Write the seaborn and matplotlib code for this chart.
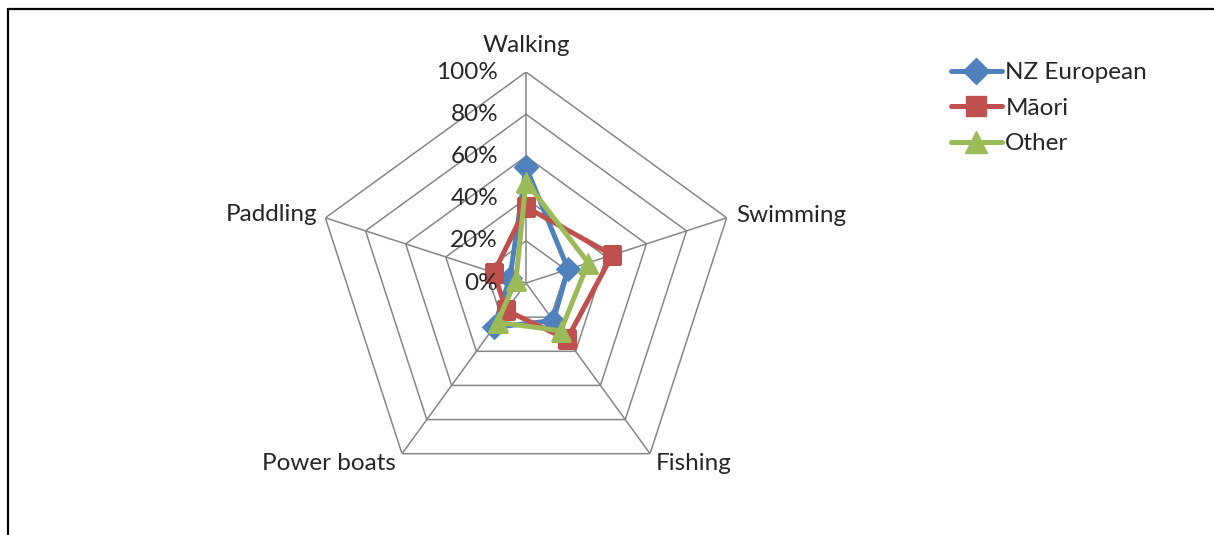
import numpy as np
import seaborn as sns
import matplotlib.pyplot as plt
from matplotlib.lines import Line2D

# data
categories = ['Walking', 'Swimming', 'Fishing', 'Power boats', 'Paddling']
nz_european = [0.55, 0.21, 0.22, 0.26, 0.08]
maori = [0.36, 0.43, 0.33, 0.16, 0.16]
other = [0.48, 0.31, 0.28, 0.23, 0.05]
r_ticks = [0.0, 0.2, 0.4, 0.6, 0.8, 1.0]
r_tick_labels = ['0%', '20%', '40%', '60%', '80%', '100%']

sns.set_style('white')
plt.rcParams['font.family'] = ['Lato', 'DejaVu Sans']

fig = plt.figure(figsize=(12.14, 5.35), dpi=100)
ax = fig.add_axes([0.2595, 0.0766, 0.3476, 0.7888], projection='polar')
ax.set_theta_offset(np.pi / 2)
ax.set_theta_direction(-1)

n = len(categories)
theta = np.linspace(0, 2 * np.pi, n, endpoint=False)
theta_closed = np.append(theta, 2 * np.pi)

# pentagon grid
grid_col = '#868686'
for r in r_ticks[1:]:
    ax.plot(theta_closed, [r] * (n + 1), color=grid_col, lw=1.1, zorder=1)
for t in theta:
    ax.plot([t, t], [0, 1], color=grid_col, lw=1.1, zorder=1)

series = [('NZ European', nz_european, '#4F81BD', 'D', 12),
          ('M\u0101ori', maori, '#C0504D', 's', 13.5),
          ('Other', other, '#9BBB59', '^', 14.5)]
for name, vals, col, mk, ms in series:
    sns.lineplot(x=theta_closed, y=np.append(vals, vals[0]), sort=False,
                 estimator=None, color=col, marker=mk, markersize=ms,
                 markeredgecolor=col, linewidth=3.6, label=name, ax=ax,
                 zorder=3)

ax.set_ylim(0, 1)
ax.set_xticks([])
ax.set_yticks([])
ax.grid(False)
ax.spines['polar'].set_visible(False)
ax.patch.set_alpha(0)
ax.get_legend().remove()

fs = 17.5
for r, lab in zip(r_ticks, r_tick_labels):
    ax.annotate(lab, xy=(0, r), xytext=(-28, 0), textcoords='offset pixels',
                ha='right', va='center', fontsize=fs, zorder=4)

# category labels
offsets = [(0, 27, 'center', 'center'), (10, 2, 'left', 'center'),
           (6, -10, 'left', 'center'), (-6, -10, 'right', 'center'),
           (-8, 3, 'right', 'center')]
for t, lab, (dx, dy, ha, va) in zip(theta, categories, offsets):
    ax.annotate(lab, xy=(t, 1), xytext=(dx, dy), textcoords='offset pixels',
                ha=ha, va=va, fontsize=fs)

handles = [Line2D([], [], color=c, marker=m, markersize=s + 1, lw=3.6)
           for _, _, c, m, s in series]
fig.legend(handles, [s[0] for s in series], loc='upper left',
           bbox_to_anchor=(0.765, 0.925), frameon=False, fontsize=fs,
           handlelength=2.1, handletextpad=0.15, labelspacing=0.6)

# chart border (top and left edges visible)
fig.add_artist(Line2D([0.0066, 1.0], [0.983, 0.983], color='black', lw=1.6))
fig.add_artist(Line2D([0.0066, 0.0066], [0.0, 0.983], color='black', lw=1.6))

fig.savefig('out.png', dpi=100)
